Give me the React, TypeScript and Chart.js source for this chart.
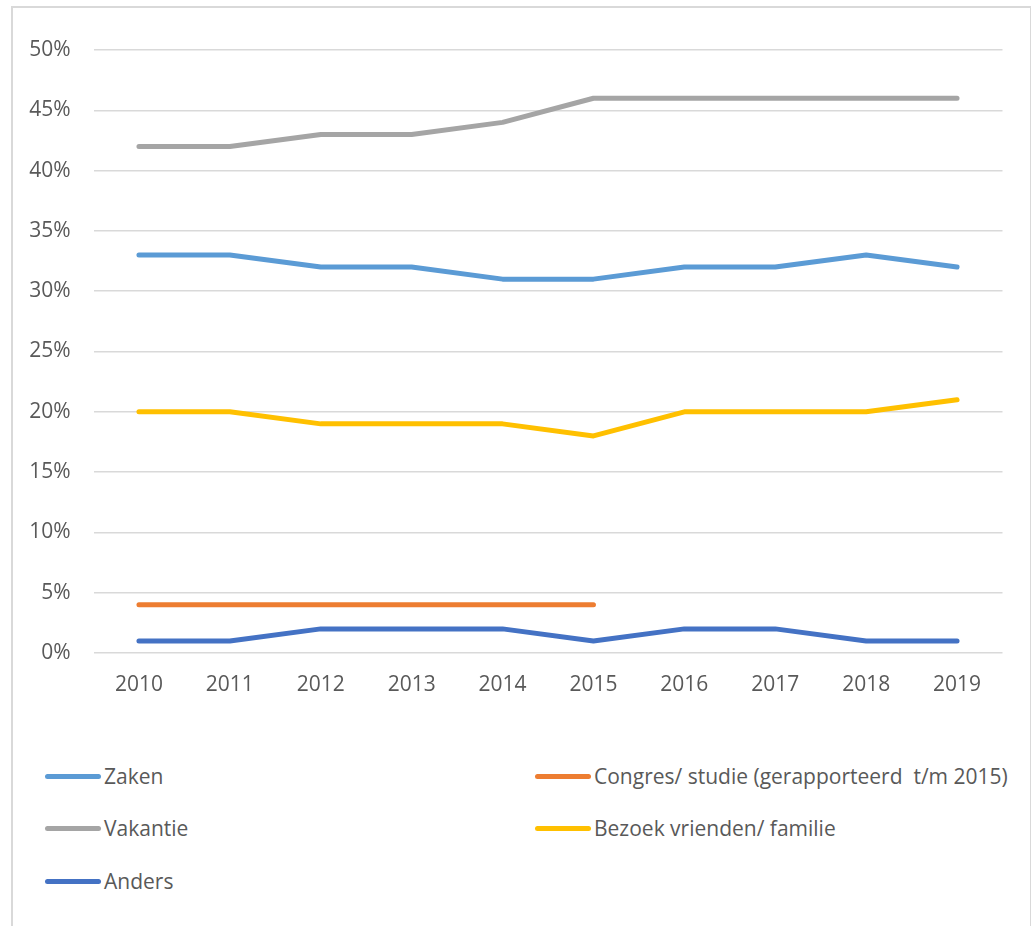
import React, { useEffect, useRef } from "react";
import { Chart, registerables } from "chart.js";

Chart.register(...registerables);

const years = ["2010", "2011", "2012", "2013", "2014", "2015", "2016", "2017", "2018", "2019"];
const zaken = [33, 33, 32, 32, 31, 31, 32, 32, 33, 32];
const congres = [4, 4, 4, 4, 4, 4, null, null, null, null];
const vakantie = [42, 42, 43, 43, 44, 46, 46, 46, 46, 46];
const bezoek = [20, 20, 19, 19, 19, 18, 20, 20, 20, 21];
const anders = [1, 1, 2, 2, 2, 1, 2, 2, 1, 1];

const seriesNames = [
  "Zaken",
  "Congres/ studie (gerapporteerd  t/m 2015)",
  "Vakantie",
  "Bezoek vrienden/ familie",
  "Anders",
];
const seriesColors = ["#5B9BD5", "#ED7D31", "#A5A5A5", "#FFC000", "#4472C4"];
const seriesData = [zaken, congres, vakantie, bezoek, anders];

const FONT = "'Open Sans', sans-serif";
const TEXT = "#595959";

export default function App() {
  const ref = useRef<HTMLCanvasElement>(null);

  useEffect(() => {
    if (!ref.current) return;
    const chart = new Chart(ref.current, {
      type: "line",
      data: {
        labels: years,
        datasets: seriesNames.map((n, i) => ({
          label: n,
          data: seriesData[i],
          borderColor: seriesColors[i],
          backgroundColor: seriesColors[i],
          borderWidth: 5,
          borderCapStyle: "round",
          borderJoinStyle: "round",
          pointRadius: 0,
          tension: 0,
          spanGaps: false,
        })),
      },
      options: {
        animation: false,
        responsive: false,
        maintainAspectRatio: false,
        layout: { padding: { top: 50, right: 28.5, left: 0, bottom: 0 } },
        plugins: { legend: { display: false }, tooltip: { enabled: false } },
        scales: {
          x: {
            offset: true,
            grid: { display: false, drawTicks: false },
            border: { display: false },
            ticks: { color: TEXT, font: { family: FONT, size: 21 }, padding: 19, maxRotation: 0 },
            afterFit: (s: any) => {
              s.height = 67;
            },
          },
          y: {
            min: 0,
            max: 50,
            grid: { color: "#d9d9d9", lineWidth: 1.5, drawTicks: false },
            border: { display: false },
            ticks: {
              stepSize: 5,
              color: TEXT,
              font: { family: FONT, size: 21 },
              padding: 23,
              callback: (v: any) => v + "%",
            },
            afterFit: (s: any) => {
              s.width = 93.5;
            },
          },
        },
      },
    });
    return () => chart.destroy();
  }, []);

  const legendPos = [
    [45, 776],
    [535, 776],
    [45, 828],
    [535, 828],
    [45, 881],
  ];

  return (
    <div style={{ position: "fixed", left: 0, top: 0, width: 1031, height: 926, background: "#fff", overflow: "hidden" }}>
      <div
        style={{
          position: "absolute",
          left: 11,
          top: 6,
          width: 1017,
          height: 940,
          border: "2px solid #d9d9d9",
        }}
      />
      <canvas ref={ref} width={1031} height={720} style={{ position: "absolute", left: 0, top: 0, width: 1031, height: 720 }} />
      {seriesNames.map((n, i) => (
        <div
          key={n}
          style={{
            position: "absolute",
            left: legendPos[i][0],
            top: legendPos[i][1] - 15,
            height: 30,
            display: "flex",
            alignItems: "center",
            fontFamily: FONT,
            fontSize: 21,
            color: TEXT,
            whiteSpace: "pre",
          }}
        >
          <span
            style={{
              display: "inline-block",
              width: 56,
              height: 5,
              borderRadius: 3,
              background: seriesColors[i],
              marginRight: 3,
            }}
          />
          <span>{n}</span>
        </div>
      ))}
    </div>
  );
}
